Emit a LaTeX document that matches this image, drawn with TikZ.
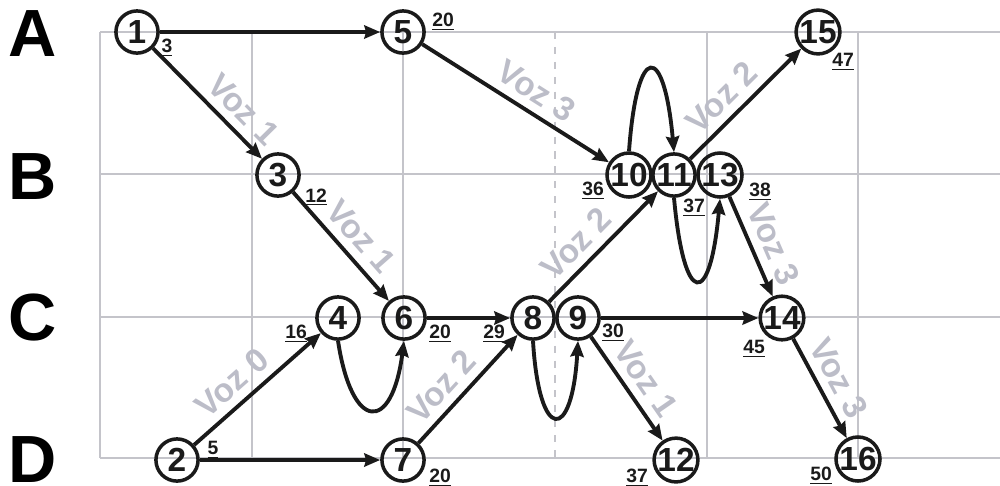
\documentclass[tikz,border=0pt]{standalone}
\usepackage{fontspec}
\setmainfont{Liberation Sans}
\usetikzlibrary{positioning, arrows.meta}

\definecolor{gridgray}{RGB}{196,196,202}
\definecolor{vozgray}{RGB}{188,189,200}
\definecolor{ink}{RGB}{26,26,26}

\tikzset{
  state/.style={circle, draw=ink, line width=2pt, minimum size=24pt, inner sep=0pt,
    text=ink, font=\fontsize{19}{19}\selectfont\bfseries},
  tlabel/.style={inner sep=0.5pt, text=ink, font=\fontsize{11}{11}\selectfont\bfseries},
  rowlabel/.style={inner sep=0pt, text=black, font=\fontsize{38}{38}\selectfont\bfseries},
  flow/.style={draw=ink, line width=2.2pt, -{Stealth[length=9pt, width=7.5pt, inset=1pt]}},
  voz/.style={sloped, above=3.5pt, inner sep=1pt, text=vozgray,
    font=\fontsize{19}{19}\selectfont\bfseries},
  gridline/.style={draw=gridgray, line width=1.1pt},
}

\begin{document}
\begin{tikzpicture}[x=0.02cm, y=-0.02cm]
    \useasboundingbox (0,0) rectangle (1000,485);

    % --- grid ---
    \foreach \y in {32,174,317,458} {
        \draw[gridline] (100,\y) -- (1000,\y);
    }
    \foreach \x in {100,252,403,707,858} {
        \draw[gridline] (\x,32) -- (\x,458);
    }
    \draw[gridline, dash pattern=on 4pt off 4.5pt] (555,32) -- (555,458);

    % --- rows ---
    \node[rowlabel] (rA) at (33,34) {A};
    \node[rowlabel] (rB) at (33,177) {B};
    \node[rowlabel] (rC) at (33,318) {C};
    \node[rowlabel] (rD) at (33,460) {D};

    % --- states ---
    \node[state] (n1) at (137,32) {1};
    \node[state] (n5) at (403,32) {5};
    \node[state] (n15) at (818,32) {15};
    \node[state] (n3) at (278,175) {3};
    \node[state] (n10) at (629,175) {10};
    \node[state] (n11) at (674,175) {11};
    \node[state] (n13) at (720,175) {13};
    \node[state] (n4) at (338,318) {4};
    \node[state] (n6) at (404,318) {6};
    \node[state] (n8) at (533,318) {8};
    \node[state] (n9) at (578,318) {9};
    \node[state] (n14) at (782,318) {14};
    \node[state] (n2) at (177,460) {2};
    \node[state] (n7) at (403,460) {7};
    \node[state] (n12) at (676,460) {12};
    \node[state] (n16) at (858,459) {16};

    % --- times ---
    \node[tlabel] (t1) at (167,48) {\underline{3}};
    \node[tlabel] (t5) at (443,22) {\underline{20}};
    \node[tlabel] (t15) at (843,62) {\underline{47}};
    \node[tlabel] (t3) at (316,197) {\underline{12}};
    \node[tlabel] (t10) at (593,191) {\underline{36}};
    \node[tlabel] (t11) at (694,208) {\underline{37}};
    \node[tlabel] (t13) at (760,192) {\underline{38}};
    \node[tlabel] (t4) at (296,334) {\underline{16}};
    \node[tlabel] (t6) at (440,334) {\underline{20}};
    \node[tlabel] (t8) at (494,334) {\underline{29}};
    \node[tlabel] (t9) at (613,333) {\underline{30}};
    \node[tlabel] (t14) at (754,349) {\underline{45}};
    \node[tlabel] (t2) at (213,450) {\underline{5}};
    \node[tlabel] (t7) at (440,478) {\underline{20}};
    \node[tlabel] (t12) at (637,478) {\underline{37}};
    \node[tlabel] (t16) at (821,476) {\underline{50}};

    % --- straight flows ---
    \draw[flow] (n1) -- (n5);
    \draw[flow] (n2) -- (n7);
    \draw[flow] (n6) -- (n8);
    \draw[flow] (n9) -- (n14);
    \draw[flow] (n1) -- node[voz, pos=0.69] (v13) {Voz 1} (n3);
    \draw[flow] (n3) -- node[voz, pos=0.54] (v36) {Voz 1} (n6);
    \draw[flow] (n5) -- node[voz, pos=0.55] (v510) {Voz 3} (n10);
    \draw[flow] (n11) -- node[voz, pos=0.42] (v1115) {Voz 2} (n15);
    \draw[flow] (n8) -- node[voz, pos=0.39] (v811) {Voz 2} (n11);
    \draw[flow] (n13) -- node[voz, pos=0.56] (v1314) {Voz 3} (n14);
    \draw[flow] (n2) -- node[voz, pos=0.41] (v24) {Voz 0} (n4);
    \draw[flow] (n7) -- node[voz, pos=0.39] (v78) {Voz 2} (n8);
    \draw[flow] (n9) -- node[voz, pos=0.52] (v912) {Voz 1} (n12);
    \draw[flow] (n14) -- node[voz, pos=0.50] (v1416) {Voz 3} (n16);

    % --- loops ---
    \draw[flow] (n4.south) .. controls +(14,92) and +(-12,92) .. (n6.south);
    \draw[flow] (n8.south) .. controls +(6,102) and +(-6,102) .. (n9.south);
    \draw[flow] (n10.north) .. controls +(8,-110) and +(-10,-110) .. (n11.north);
    \draw[flow] (n11.south) .. controls +(10,110) and +(-10,110) .. (n13.south);
\end{tikzpicture}
\end{document}
